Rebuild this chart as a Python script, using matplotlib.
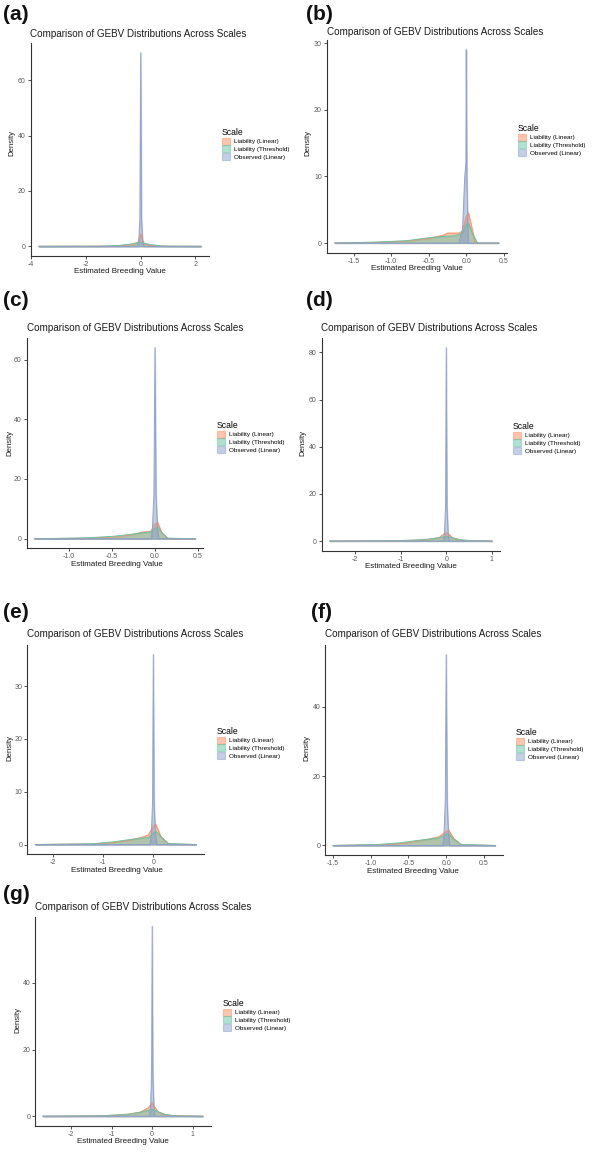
import matplotlib
matplotlib.use("Agg")
import matplotlib.pyplot as plt

plt.rcParams['font.family'] = ['Liberation Sans', 'DejaVu Sans']

W, H = 600, 1153

series_names = ["Liability (Linear)", "Liability (Threshold)", "Observed (Linear)"]
series_colors = ["#FC8D62", "#66C2A5", "#8DA0CB"]

panel_labels = ["(a)", "(b)", "(c)", "(d)", "(e)", "(f)", "(g)"]

# density curves, per panel: (x, y) for each scale
a_lin_x = [-3.72, -1.0, -0.3, -0.1, -0.03, 0.0, 0.03, 0.1, 0.3, 1.0, 2.2]
a_lin_y = [0, 0.1, 0.6, 1.5, 3.5, 4.5, 3.5, 1.2, 0.3, 0.05, 0]
a_thr_x = [-3.72, -1.5, -0.8, -0.4, -0.1, 0.0, 0.1, 0.4, 0.8, 2.2]
a_thr_y = [0, 0.05, 0.3, 0.8, 1.3, 1.5, 1.2, 0.6, 0.1, 0]
a_obs_x = [-3.72, -0.12, -0.07, -0.03, 0.0, 0.03, 0.07, 0.12, 2.2]
a_obs_y = [0, 0, 2, 10, 70, 10, 2, 0, 0]

b_lin_x = [-1.75, -1.2, -0.8, -0.5, -0.3, -0.25, -0.1, -0.05, 0.0, 0.03, 0.08, 0.12, 0.43]
b_lin_y = [0, 0.1, 0.3, 0.7, 1.2, 1.5, 1.5, 1.8, 4.0, 4.5, 2.0, 0, 0]
b_thr_x = [-1.75, -1.2, -0.8, -0.5, -0.3, -0.15, -0.05, 0.0, 0.03, 0.08, 0.15, 0.43]
b_thr_y = [0, 0.15, 0.35, 0.8, 1.0, 1.1, 1.5, 2.8, 3.0, 1.5, 0, 0]
b_obs_x = [-1.75, -0.1, -0.05, -0.02, -0.005, 0.0, 0.008, 0.025, 0.43]
b_obs_y = [0, 0, 2, 10, 12, 29, 10, 0, 0]

c_lin_x = [-1.4, -0.8, -0.5, -0.3, -0.15, -0.05, 0.0, 0.03, 0.08, 0.15, 0.47]
c_lin_y = [0, 0.2, 0.6, 1.2, 2.2, 2.5, 5.0, 5.5, 2.0, 0, 0]
c_thr_x = [-1.4, -0.8, -0.5, -0.3, -0.15, -0.05, 0.0, 0.03, 0.08, 0.15, 0.47]
c_thr_y = [0, 0.3, 0.8, 1.4, 2.0, 2.3, 3.5, 4.0, 2.0, 0.2, 0]
c_obs_x = [-1.4, -0.045, -0.03, -0.012, 0.0, 0.012, 0.03, 0.045, 0.47]
c_obs_y = [0, 0, 3, 15, 64, 15, 3, 0, 0]

d_lin_x = [-2.55, -1.0, -0.4, -0.15, -0.05, 0.0, 0.05, 0.15, 0.4, 1.0]
d_lin_y = [0, 0.1, 0.6, 1.5, 3.0, 3.5, 3.0, 1.2, 0.2, 0]
d_thr_x = [-2.55, -1.2, -0.6, -0.3, -0.1, 0.0, 0.1, 0.3, 0.6, 1.0]
d_thr_y = [0, 0.1, 0.5, 1.0, 1.7, 2.0, 1.6, 0.6, 0.1, 0]
d_obs_x = [-2.55, -0.06, -0.04, -0.015, 0.0, 0.015, 0.04, 0.06, 1.0]
d_obs_y = [0, 0, 3, 15, 82, 15, 3, 0, 0]

e_lin_x = [-2.35, -1.2, -0.8, -0.5, -0.25, -0.1, 0.0, 0.05, 0.15, 0.3, 0.85]
e_lin_y = [0, 0.1, 0.4, 0.8, 1.3, 1.8, 3.5, 3.8, 1.5, 0.1, 0]
e_thr_x = [-2.35, -1.2, -0.8, -0.5, -0.25, -0.1, 0.0, 0.05, 0.15, 0.3, 0.85]
e_thr_y = [0, 0.15, 0.5, 0.9, 1.2, 1.3, 2.2, 2.5, 1.5, 0.2, 0]
e_obs_x = [-2.35, -0.065, -0.04, -0.015, 0.0, 0.015, 0.04, 0.065, 0.85]
e_obs_y = [0, 0, 2, 8, 36, 8, 2, 0, 0]

f_lin_x = [-1.5, -0.9, -0.6, -0.4, -0.2, -0.1, 0.0, 0.03, 0.1, 0.2, 0.65]
f_lin_y = [0, 0.2, 0.6, 1.2, 2.0, 2.5, 4.0, 4.5, 2.0, 0.2, 0]
f_thr_x = [-1.5, -0.9, -0.6, -0.4, -0.2, -0.1, 0.0, 0.03, 0.1, 0.2, 0.65]
f_thr_y = [0, 0.3, 0.8, 1.4, 1.9, 2.2, 3.2, 3.5, 1.8, 0.3, 0]
f_obs_x = [-1.5, -0.045, -0.03, -0.012, 0.0, 0.012, 0.03, 0.045, 0.65]
f_obs_y = [0, 0, 3, 13, 55, 13, 3, 0, 0]

g_lin_x = [-2.7, -1.2, -0.6, -0.3, -0.1, 0.0, 0.05, 0.15, 0.4, 1.25]
g_lin_y = [0, 0.1, 0.6, 1.2, 2.5, 4.0, 3.0, 1.2, 0.2, 0]
g_thr_x = [-2.7, -1.2, -0.6, -0.3, -0.1, 0.0, 0.1, 0.3, 0.6, 1.25]
g_thr_y = [0, 0.15, 0.6, 1.2, 1.8, 2.0, 1.6, 0.6, 0.1, 0]
g_obs_x = [-2.7, -0.065, -0.04, -0.015, 0.0, 0.015, 0.04, 0.065, 1.25]
g_obs_y = [0, 0, 3, 13, 57, 13, 3, 0, 0]

curves = [
    [(a_lin_x, a_lin_y), (a_thr_x, a_thr_y), (a_obs_x, a_obs_y)],
    [(b_lin_x, b_lin_y), (b_thr_x, b_thr_y), (b_obs_x, b_obs_y)],
    [(c_lin_x, c_lin_y), (c_thr_x, c_thr_y), (c_obs_x, c_obs_y)],
    [(d_lin_x, d_lin_y), (d_thr_x, d_thr_y), (d_obs_x, d_obs_y)],
    [(e_lin_x, e_lin_y), (e_thr_x, e_thr_y), (e_obs_x, e_obs_y)],
    [(f_lin_x, f_lin_y), (f_thr_x, f_thr_y), (f_obs_x, f_obs_y)],
    [(g_lin_x, g_lin_y), (g_thr_x, g_thr_y), (g_obs_x, g_obs_y)],
]

x_ticks = [
    [-4, -2, 0, 2],
    [-1.5, -1.0, -0.5, 0.0, 0.5],
    [-1.0, -0.5, 0.0, 0.5],
    [-2, -1, 0, 1],
    [-2, -1, 0],
    [-1.5, -1.0, -0.5, 0.0, 0.5],
    [-2, -1, 0, 1],
]
x_tick_labels = [
    ["-4", "-2", "0", "2"],
    ["-1.5", "-1.0", "-0.5", "0.0", "0.5"],
    ["-1.0", "-0.5", "0.0", "0.5"],
    ["-2", "-1", "0", "1"],
    ["-2", "-1", "0"],
    ["-1.5", "-1.0", "-0.5", "0.0", "0.5"],
    ["-2", "-1", "0", "1"],
]
y_ticks = [
    [0, 20, 40, 60],
    [0, 10, 20, 30],
    [0, 20, 40, 60],
    [0, 20, 40, 60, 80],
    [0, 10, 20, 30],
    [0, 20, 40],
    [0, 20, 40],
]

# layout in pixels: panel box (left, right, top, bottom) and text anchors
boxes = [
    (30.7, 209, 43, 256),
    (326.7, 506.7, 40, 252.7),
    (26.7, 203.3, 338, 548.3),
    (321.7, 500, 338, 550.7),
    (27.3, 204, 645, 854),
    (325, 503.3, 645, 855),
    (35, 210.7, 916.7, 1125.7),
]
label_pos = [(3, 15), (306, 15), (3, 300), (306, 301), (3, 613), (311, 613), (3, 895)]
title_pos = [(30, 34), (327, 32), (27, 328), (321, 328), (27, 634), (325, 634), (35, 907)]
legend_pos = [(222, 128), (518, 124), (217, 421), (513, 422), (217, 727), (516, 728), (223, 999)]
ylab_pos = [(12, 143), (308, 143), (10, 443), (303, 443), (10, 748), (307, 748), (18, 1020)]
xlab_pos = [(120, 271.5), (417, 268.5), (117, 564.5), (411, 567), (117, 871), (413, 871.5), (123, 1141.5)]


def fx(px):
    return px / W


def fy(py):
    return 1 - py / H


fig = plt.figure(figsize=(W / 100, H / 100), dpi=100)
fig.patch.set_facecolor("white")

axis_col = "#333333"
tick_col = "#5a5a5a"

for i in range(7):
    L, R, T, B = boxes[i]
    ax = fig.add_axes([fx(L), fy(B), (R - L) / W, (B - T) / H])
    handles = []
    xmin = min(min(c[0]) for c in curves[i])
    xmax = max(max(c[0]) for c in curves[i])
    ymax = max(max(c[1]) for c in curves[i])
    for (xs, ys), name, col in zip(curves[i], series_names, series_colors):
        h = ax.fill_between(xs, ys, 0, facecolor=col, alpha=0.5,
                            edgecolor=col, linewidth=0.8, label=name)
        ax.plot(xs, ys, color=col, lw=0.7, alpha=0.9)
        handles.append(h)
    xr = xmax - xmin
    ax.set_xlim(xmin - 0.05 * xr, xmax + 0.05 * xr)
    ax.set_ylim(-0.05 * ymax, 1.05 * ymax)
    ax.set_xticks(x_ticks[i])
    ax.set_xticklabels(x_tick_labels[i])
    ax.set_yticks(y_ticks[i])
    for side in ["top", "right"]:
        ax.spines[side].set_visible(False)
    for side in ["left", "bottom"]:
        ax.spines[side].set_color(axis_col)
        ax.spines[side].set_linewidth(0.8)
    ax.tick_params(length=2, width=0.6, color=axis_col, labelcolor=tick_col,
                   labelsize=5, pad=1.5)

    lx, ly = label_pos[i]
    fig.text(fx(lx), fy(ly), panel_labels[i], fontsize=15, fontweight="bold",
             ha="left", va="center", color="#111111")
    tx, ty = title_pos[i]
    fig.text(fx(tx), fy(ty), "Comparison of GEBV Distributions Across Scales",
             fontsize=7.1, ha="left", va="center", color="#1a1a1a")
    yx, yy = ylab_pos[i]
    fig.text(fx(yx), fy(yy), "Density", fontsize=5.6, rotation=90,
             ha="center", va="center", color="#1a1a1a")
    xx, xy = xlab_pos[i]
    fig.text(fx(xx), fy(xy), "Estimated Breeding Value", fontsize=5.8,
             ha="center", va="center", color="#1a1a1a")

    gx, gy = legend_pos[i]
    leg = ax.legend(handles=handles, labels=series_names, loc="upper left",
                    bbox_to_anchor=(fx(gx), fy(gy)), bbox_transform=fig.transFigure,
                    title="Scale", frameon=False, fontsize=4.6,
                    title_fontsize=6.2, alignment="left", borderpad=0,
                    borderaxespad=0, handlelength=1.3, handleheight=1.3,
                    labelspacing=0.12, handletextpad=0.6)

fig.savefig("out.png", dpi=100, facecolor="white")
